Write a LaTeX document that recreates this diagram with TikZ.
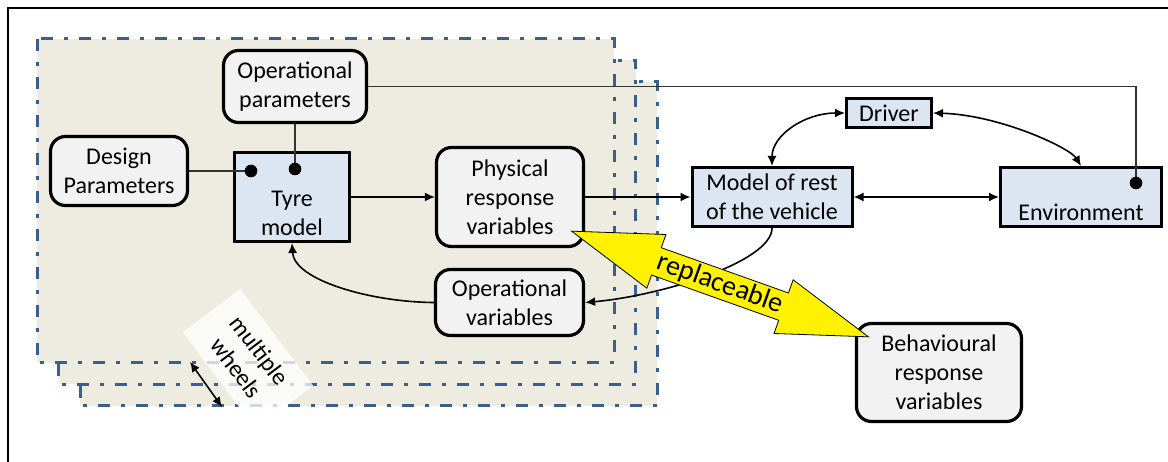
\documentclass[tikz,border=0pt]{standalone}
\usepackage{fontspec}
\setmainfont{Carlito}
\usepackage{xcolor}
\usetikzlibrary{arrows.meta}
\definecolor{wheelfill}{HTML}{EEECE1}
\definecolor{wheeldash}{HTML}{3A5F8B}
\definecolor{boxblue}{HTML}{DCE6F2}
\definecolor{boxgrey}{HTML}{F2F2F2}

\begin{document}
\begin{tikzpicture}[
  x=1pt, y=-1pt,
  font=\fontsize{24}{29}\selectfont,
  >={Latex[length=10pt,width=9pt]},
  wheel/.style={fill=wheelfill, draw=wheeldash, line width=3pt, dash pattern=on 12pt off 11pt on 4pt off 11pt},
  greybox/.style={draw, fill=boxgrey, rounded corners=15pt, line width=3.2pt, align=center, inner sep=2pt},
  bluebox/.style={draw, fill=boxblue, line width=3pt, align=center, inner sep=2pt},
  wire/.style={line width=1.3pt, black!80},
  flow/.style={line width=1.6pt},
  swapper/.style={draw=black, line width=0.8pt, fill=yellow}
]
\useasboundingbox (0,0) rectangle (1168,462);
\draw[line width=2.5pt] (8,462) -- (8,8) -- (1168,8);

% one frame per wheel, back to front
\foreach \d in {43,21.5,0}
  \draw[wheel] (37+\d,39+\d) rectangle (614+\d,363+\d);

\node[greybox, minimum width=143pt, minimum height=72pt] (opp) at (295,86.5) {Operational\\parameters};
\node[greybox, minimum width=137pt, minimum height=69pt] (dsp) at (119,171) {Design\\Parameters};
\node[bluebox, minimum width=115pt, minimum height=89pt] (tyre) at (292,197) {\rule{0pt}{48pt}Tyre\\model};
\node[greybox, minimum width=147pt, minimum height=99pt] (phys) at (510,197) {Physical\\response\\variables};
\node[greybox, minimum width=148pt, minimum height=66pt] (opv) at (509.5,302.5) {Operational\\variables};
\node[bluebox, minimum width=160pt, minimum height=59pt] (mod) at (772,197) {Model of rest\\of the vehicle};
\node[bluebox, minimum width=85pt, minimum height=29pt] (drv) at (889,113) {Driver};
\node[bluebox, minimum width=161pt, minimum height=59pt] (env) at (1081,197) {\rule{0pt}{48pt}Environment};
\node[greybox, minimum width=165pt, minimum height=98pt] (beh) at (939,372.5) {Behavioural\\response\\variables};

\coordinate (tdotA) at (251,171);
\coordinate (tdotB) at (295,169);
\coordinate (edot) at (1136,183);

\draw[wire] (dsp.east) -- (tdotA);
\draw[wire] (opp.south) -- (tdotB);
\draw[wire] (opp.east) -| (edot);
\foreach \p in {tdotA,tdotB,edot}
  \fill (\p) circle (6.3pt);

\draw[flow, ->] (tyre) -- (phys);
\draw[flow, ->] (phys) -- (mod);
\draw[flow, <->] (mod) -- (env);
\draw[flow, <->] (drv.west) .. controls (805,113) and (772,135) .. (mod.north);
\draw[flow, <->] (drv.east) .. controls (1000,115) and (1070,148) .. (env.north);
\draw[flow, ->] (mod.south) .. controls (772,262) and (660,296) .. (opv.east);
\draw[flow, ->] (opv.west) .. controls (370,302) and (294,280) .. (tyre.south);

% model swap arrow
\begin{scope}[shift={(720,284)}, rotate=-19.6]
  \draw[swapper] (-157.5,0) -- (-67.5,-28.5) -- (-67.5,-14.5) -- (67.5,-14.5) -- (67.5,-28.5)
    -- (157.5,0) -- (67.5,28.5) -- (67.5,14.5) -- (-67.5,14.5) -- (-67.5,28.5) -- cycle;
  \node[rotate=-19.6, font=\fontsize{28}{32}\selectfont] (rplc) at (0,0) {replaceable};
\end{scope}

\node[fill=white, fill opacity=0.75, text opacity=1, rotate=-53, align=center, inner sep=0pt,
  minimum width=121pt, minimum height=72pt] (mwl) at (248,359) {multiple\\wheels};
\coordinate (mwA) at (190,362);
\coordinate (mwB) at (222,407);
\draw[flow, <->] (mwA) -- (mwB);
\end{tikzpicture}
\end{document}
